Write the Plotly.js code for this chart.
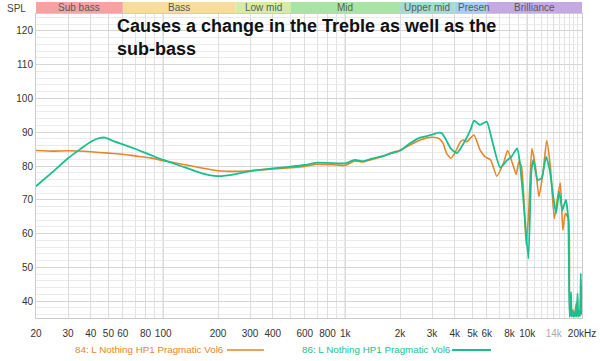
<!DOCTYPE html>
<html><head><meta charset="utf-8">
<script src="https://cdn.plot.ly/plotly-3.0.1.min.js"></script>
<style>html,body{margin:0;padding:0;background:#fff}#chart{width:600px;height:361px}</style>
</head><body><div id="chart"></div>
<script>
// ---- data ----
const seriesOrangeName = "84: L Nothing HP1 Pragmatic Vol6";
const seriesGreenName = "86: L Nothing HP1 Pragmatic Vol6";

const freqOrange = [20,25,30,40,50,60,70,85,100,125,160,200,250,300,400,500,600,700,800,900,1000,1130,1250,1400,1600,1800,2000,2270,2580,2970,3260,3450,3600,3800,4000,4300,4470,4650,5100,5500,5850,6300,6800,7400,7800,8300,8700,9000,9300,9550,9870,10200,10600,11100,11600,12200,12800,13400,14100,14700,15200,15700,16200,16900,17200,17500,17800,18200,18600,18900,19200,19500,19800,20000];
const splOrange = [84.6,84.4,84.5,84.2,83.8,83.5,83.0,82.4,81.6,80.6,79.5,78.6,78.4,78.6,79.1,79.5,79.9,80.5,80.4,80.3,80.2,81.5,81.2,81.9,82.8,84.0,84.7,86.2,87.7,88.5,88.2,86.7,83.8,82.3,83.8,87.2,87.7,87.2,89.2,84.8,82.8,81.8,77.0,80.8,84.6,80.8,77.5,81.3,79.8,72.0,56.6,66.9,85.2,79.8,70.9,77.8,87.5,79.8,64.4,70.9,75.0,61.0,66.0,64.0,36.0,35.6,37.5,35.6,39.5,35.8,37.0,35.6,44.5,40.0];

const freqGreen = [20,25,30,35,40,45,48,52,60,70,85,100,125,160,200,250,300,400,500,600,700,800,900,1000,1130,1250,1400,1600,1800,2000,2270,2580,2970,3260,3400,3600,3800,4100,4470,4880,5100,5500,6000,6400,7100,7700,8200,8800,9100,9560,10150,10550,10800,11400,12000,12700,13300,13900,14400,15000,15600,16300,16800,17100,17300,17400,17550,17700,17900,18100,18300,18500,18700,18900,19100,19300,19500,19700,19850,20000];
const splGreen = [74.0,78.5,82.3,85.0,87.2,88.3,88.4,87.6,86.4,85.1,83.3,81.8,80.0,78.0,77.0,77.6,78.5,79.3,79.8,80.3,81.0,80.9,80.8,80.8,81.8,81.4,82.2,82.9,83.8,84.5,86.7,88.4,89.2,89.9,89.7,87.5,85.2,83.8,86.7,90.7,93.4,92.2,93.1,87.7,79.5,81.5,82.8,85.2,81.3,68.9,52.6,78.8,81.8,75.9,76.4,82.8,78.8,70.9,66.0,72.4,66.9,70.0,64.4,35.4,36.5,42.7,35.4,37.0,35.4,36.5,35.4,38.0,35.4,42.3,35.4,37.0,35.6,48.2,36.0,40.0];

const xTickVals = [20,30,40,50,60,80,100,200,300,400,600,800,1000,2000,3000,4000,5000,6000,8000,10000,14000,20000];
const xTickText = ["20","30","40","50","60","80","100","200","300","400","600","800","1k","2k","3k","4k","5k","6k","8k","10k","<span style=\"color:#aaaaaa\">14k</span>","20kHz"];
const xMinorVals = [70,90,500,700,900,7000,9000,11000,12000,13000,15000,16000,17000,18000,19000];
const xMajorLines = [100,1000,10000];
const yTickVals = [40,50,60,70,80,90,100,110,120];

const bandEdges = [20,60,250,500,2000,4000,6000,20000];
const bandNames = ["Sub bass","Bass","Low mid","Mid","Upper mid","Presen","Brilliance"];
const bandColors = ["#f4a2a2","#f8dc9e","#d6eca2","#a9e3a6","#a2dcd2","#a9cdf0","#c5a9e3"];

const annotationText = "Causes a change in the Treble as well as the<br>sub-bass";

const orangeColor = "#e5862a";
const greenColor = "#19bf8d";

// ---- build ----
const FONT = "Liberation Sans, Arial, Helvetica, sans-serif";
const traces = [
  {x: freqOrange, y: splOrange, type: "scatter", mode: "lines", name: seriesOrangeName,
   line: {color: orangeColor, width: 1.6, shape: "spline", smoothing: 0.5}, hoverinfo: "skip"},
  {x: freqGreen, y: splGreen, type: "scatter", mode: "lines", name: seriesGreenName,
   line: {color: greenColor, width: 1.8, shape: "spline", smoothing: 0.5}, hoverinfo: "skip"}
];

const shapes = [];
const annotations = [];
const bandTop = 1 + 12/304;
for (let i = 0; i < bandNames.length; i++) {
  shapes.push({type: "rect", xref: "x", yref: "paper", x0: bandEdges[i], x1: bandEdges[i+1],
    y0: 1.003, y1: bandTop, fillcolor: bandColors[i], line: {width: 0}, layer: "above"});
  const isPres = bandNames[i] === "Presen";
  annotations.push({xref: "x", yref: "paper",
    x: isPres ? Math.log10(bandEdges[i]) + 0.004 : (Math.log10(bandEdges[i]) + Math.log10(bandEdges[i+1])) / 2,
    xanchor: isPres ? "left" : "center",
    y: (1.003 + bandTop) / 2, yanchor: "middle", text: bandNames[i], showarrow: false,
    font: {family: FONT, size: 10, color: "#5a5a5a"}});
}
xMajorLines.forEach(v => shapes.push({type: "line", xref: "x", yref: "paper", x0: v, x1: v, y0: 0, y1: 1,
  line: {color: "#b8b8b8", width: 1}, layer: "below"}));

annotations.push({xref: "paper", yref: "paper", x: (115-36)/546, y: 1 - (14-14)/304, xanchor: "left", yanchor: "top",
  align: "left", text: annotationText, showarrow: false,
  font: {family: FONT, size: 18, color: "#111", weight: "bold"}});
annotations.push({xref: "paper", yref: "paper", x: (5-36)/546, y: 1 + (14-8)/304, xanchor: "left", yanchor: "middle",
  text: "SPL", showarrow: false, font: {family: FONT, size: 10, color: "#444"}});

// legend (text followed by line sample)
const legY = -(350-318)/304;
annotations.push({xref: "paper", yref: "paper", x: (73-36)/546, y: legY, xanchor: "left", yanchor: "middle",
  text: seriesOrangeName, showarrow: false, font: {family: FONT, size: 9.8, color: orangeColor}});
annotations.push({xref: "paper", yref: "paper", x: (300-36)/546, y: legY, xanchor: "left", yanchor: "middle",
  text: seriesGreenName, showarrow: false, font: {family: FONT, size: 9.8, color: greenColor}});
shapes.push({type: "line", xref: "paper", yref: "paper", x0: (227-36)/546, x1: (264-36)/546, y0: legY, y1: legY,
  line: {color: orangeColor, width: 1.6}});
shapes.push({type: "line", xref: "paper", yref: "paper", x0: (452-36)/546, x1: (491-36)/546, y0: legY, y1: legY,
  line: {color: greenColor, width: 1.8}});

const layout = {
  width: 600, height: 361,
  margin: {l: 36, r: 18, t: 14, b: 43},
  paper_bgcolor: "#fff", plot_bgcolor: "#fff",
  showlegend: false,
  font: {family: FONT, size: 10, color: "#333"},
  xaxis: {type: "log", range: [Math.log10(20), Math.log10(20000)], tickmode: "array",
    tickvals: xTickVals, ticktext: xTickText, showgrid: true, gridcolor: "#dcdcdc", gridwidth: 1,
    minor: {tickmode: "array", tickvals: xMinorVals, showgrid: true, gridcolor: "#e2e2e2", ticks: ""},
    showline: true, linecolor: "#cccccc", mirror: true, zeroline: false,
    ticks: "outside", ticklen: 6, tickcolor: "rgba(0,0,0,0)", tickfont: {size: 10, color: "#333"}},
  yaxis: {range: [35, 125], tickmode: "array", tickvals: yTickVals, showgrid: true, gridcolor: "#d6d6d6",
    minor: {dtick: 2, tick0: 0, showgrid: true, gridcolor: "#ebebeb", ticks: ""},
    showline: true, linecolor: "#cccccc", mirror: true, zeroline: false,
    ticks: "", tickfont: {size: 10, color: "#333"}},
  shapes: shapes,
  annotations: annotations
};

Plotly.newPlot("chart", traces, layout, {staticPlot: true, displayModeBar: false});
</script>
</body></html>
